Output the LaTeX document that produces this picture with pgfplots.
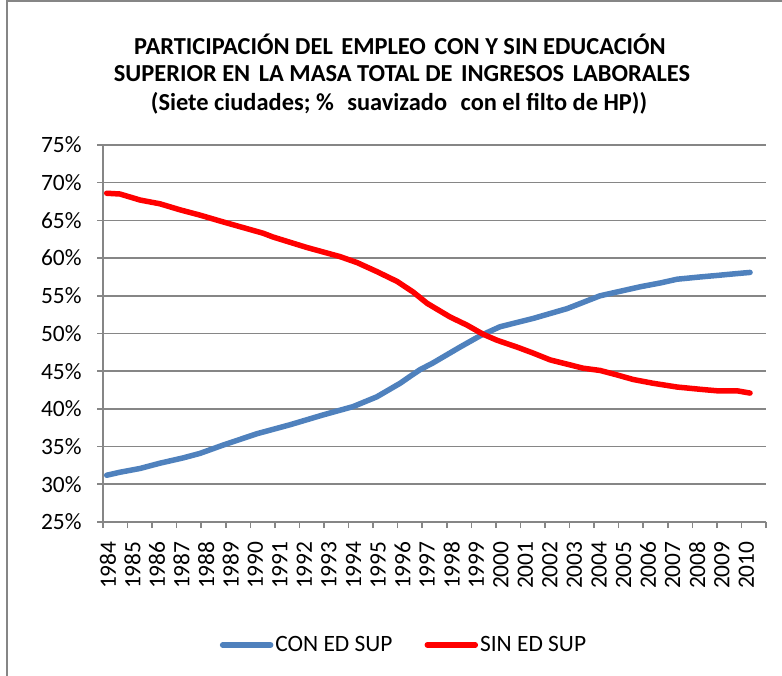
\documentclass[border=0pt]{standalone}
\usepackage{pgfplots}
\pgfplotsset{compat=1.18}
\usepackage{fontspec}
\setmainfont{Carlito}
\definecolor{conblue}{RGB}{79,129,189}
\definecolor{sinred}{RGB}{255,0,0}
\definecolor{gridgray}{RGB}{134,134,134}
\begin{document}
\begin{tikzpicture}
\useasboundingbox (0,0) rectangle (782bp,676bp);
\draw[gridgray, line width=1.5bp] (7bp,0bp) -- (7bp,675bp) -- (782bp,675bp);
\node[font=\fontsize{24.5}{28}\selectfont\bfseries] at (400bp,632bp) {PARTICIPACIÓN DEL\hspace{3bp} EMPLEO\hspace{3bp} CON Y SIN EDUCACIÓN};
\node[font=\fontsize{24.5}{28}\selectfont\bfseries] at (402bp,602bp) {SUPERIOR EN\hspace{3bp} LA MASA TOTAL DE\hspace{3bp} INGRESOS\hspace{3bp} LABORALES};
\node[font=\fontsize{24.5}{28}\selectfont\bfseries] at (399bp,573bp) {(Siete ciudades; \%\hspace{8bp} suavizado\hspace{8bp} con el filto de HP))};
\begin{axis}[
  at={(103bp,154bp)}, anchor=south west,
  width=663bp, height=377bp, scale only axis,
  xmin=1984, xmax=2011, ymin=25, ymax=75,
  axis x line=bottom, axis y line=left,
  axis line style={gridgray, line width=1.6bp, -},
  ytick={25,30,...,75},
  yticklabel={\pgfmathprintnumber{\tick}\%},
  xtick={1984.2,1985.2,1986.2,1987.2,1988.2,1989.2,1990.2,1991.2,1992.2,1993.2,1994.2,1995.2,1996.2,1997.2,1998.2,1999.2,2000.2,2001.2,2002.2,2003.2,2004.2,2005.2,2006.2,2007.2,2008.2,2009.2,2010.2},
  xticklabel={\pgfmathtruncatemacro\yr{\tick}\yr},
  minor xtick={1984,1985,...,2011},
  major x tick style={draw=none},
  tick align=outside,
  major tick length=6bp, minor tick length=6bp,
  tick style={gridgray, line width=1.6bp},
  ymajorgrids, grid style={gridgray, line width=1.6bp},
  /pgf/number format/assume math mode=true,
  ticklabel style={font=\fontsize{23.5}{26}\selectfont},
  x tick label style={rotate=90, anchor=east},
  xticklabel shift=10bp, yticklabel shift=12bp,
  legend style={at={(0.454,-0.326)}, anchor=center, draw=none, fill=none,
    legend columns=2, font=\fontsize{23.5}{26}\selectfont,
    /tikz/every even column/.append style={column sep=30bp}},
  legend image code/.code={\draw[#1] (0bp,0bp) -- (48bp,0bp);},
  clip=false,
]
\addplot[conblue, line width=5.5bp, line cap=round, line join=round] coordinates {
(1984.15,31.2) (1984.69,31.6) (1985.51,32.1) (1986.32,32.8) (1987.26,33.5)
(1987.95,34.1) (1988.89,35.2) (1990.26,36.7) (1991.62,37.9) (1992.96,39.2)
(1994.18,40.3) (1995.15,41.6) (1996.10,43.4) (1996.50,44.3) (1996.91,45.2)
(1997.44,46.1) (1998.54,48.2) (1999.36,49.7) (2000.17,50.9) (2001.52,52.0)
(2002.90,53.3) (2004.24,55.0) (2005.06,55.6) (2005.88,56.2) (2006.69,56.7)
(2007.38,57.2) (2008.32,57.5) (2009.01,57.7) (2009.66,57.9) (2010.35,58.1)
};
\addlegendentry{CON ED SUP}
\addplot[sinred, line width=5.5bp, line cap=round, line join=round] coordinates {
(1984.15,68.6) (1984.69,68.5) (1985.51,67.7) (1986.32,67.2) (1987.14,66.4)
(1987.95,65.7) (1988.89,64.8) (1990.52,63.3) (1990.92,62.8) (1992.31,61.4)
(1993.65,60.2) (1994.35,59.4) (1995.16,58.2) (1995.98,56.9) (1996.63,55.5)
(1997.20,54.0) (1998.13,52.2) (1998.83,51.1) (1999.48,49.9) (2000.05,49.1)
(2000.86,48.2) (2001.52,47.4) (2002.21,46.5) (2003.55,45.4) (2004.24,45.1)
(2004.94,44.5) (2005.59,43.9) (2006.40,43.4) (2007.38,42.9) (2008.32,42.6)
(2009.01,42.4) (2009.82,42.4) (2010.35,42.1)
};
\addlegendentry{SIN ED SUP}
\end{axis}
\end{tikzpicture}
\end{document}
